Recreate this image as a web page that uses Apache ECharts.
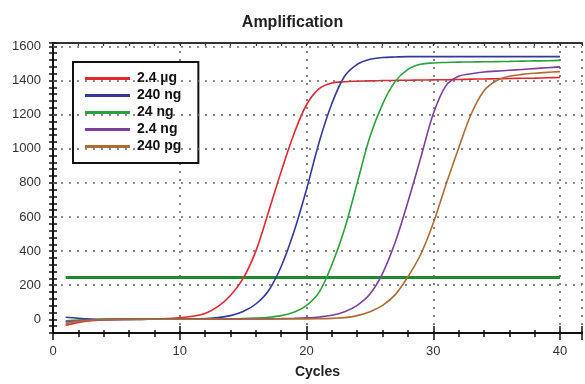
<!DOCTYPE html>
<html>
<head>
<meta charset="utf-8">
<script src="https://cdn.jsdelivr.net/npm/echarts@6/dist/echarts.min.js"></script>
<style>
html,body{margin:0;padding:0;background:#fff;}
#chart{width:585px;height:384px;}
</style>
</head>
<body>
<div id="chart"></div>
<script>
// ---- data ----
const cycles = [1,2,3,4,5,6,7,8,9,10,11,12,13,14,15,16,17,18,19,20,21,22,23,24,25,26,27,28,29,30,31,32,33,34,35,36,37,38,39,40];
const seriesNames = ['2.4 µg', '240 ng', '24 ng', '2.4 ng', '240 pg'];
const red = [-35,-18,-8,-3,0,1,2,3,5,9,18,35,75,140,240,400,630,866,1085,1258,1352,1385,1393,1396,1398,1400,1401,1402,1403,1404,1405,1406,1408,1409,1410,1412,1413,1414,1416,1418];
const blue = [12,6,2,0,0,0,0,1,1,2,3,5,10,22,46,90,168,310,512,762,1040,1265,1425,1495,1525,1535,1538,1540,1540,1540,1540,1540,1540,1540,1540,1540,1540,1540,1540,1540];
const green = [-8,-4,-2,0,0,1,1,1,2,2,2,3,3,3,4,7,12,22,42,82,160,320,530,800,1070,1262,1395,1465,1495,1503,1506,1508,1509,1510,1511,1512,1514,1515,1516,1518];
const purple = [-15,-8,-4,-1,0,0,1,1,1,1,2,2,2,2,3,3,3,4,6,9,14,24,45,82,148,270,453,690,945,1205,1370,1425,1440,1450,1455,1460,1465,1470,1475,1480];
const brown = [-25,-12,-5,-2,0,0,0,1,1,1,1,1,2,2,2,2,2,2,3,3,4,6,10,22,45,82,145,250,380,565,790,1005,1205,1340,1400,1425,1436,1443,1448,1452];
const thresholdValue = 245;
const thresholdRange = [1, 40];
const yGridValues = [200,400,600,800,1000,1200,1400,1600];
const xLabelStep = 10;
const yLabelStep = 200;

const colors = ['#e3262f', '#33389a', '#2aa13a', '#7b3f9e', '#b06a35'];
const allData = [red, blue, green, purple, brown];
const FONT = 'Liberation Sans, Arial, sans-serif';

const xMin = 0, xMax = 41.73, yMin = -80, yMax = 1620;

function xAxisDef(extra) {
  return Object.assign({
    type: 'value', min: xMin, max: xMax, position: 'bottom',
    axisLine: {show: false, onZero: false},
    axisLabel: {show: false},
    splitLine: {show: false},
    axisTick: {show: false}
  }, extra);
}
function yAxisDef(extra) {
  return Object.assign({
    type: 'value', min: yMin, max: yMax, interval: 40, position: 'left',
    axisLine: {show: false, onZero: false},
    axisLabel: {show: false},
    splitLine: {show: false},
    axisTick: {show: false}
  }, extra);
}

const series = seriesNames.map((n, i) => ({
  name: n,
  type: 'line',
  xAxisIndex: 0, yAxisIndex: 0,
  data: cycles.map((c, k) => [c, allData[i][k]]),
  smooth: 0.35,
  symbol: 'none',
  z: 3,
  lineStyle: {color: colors[i], width: 1.6},
  itemStyle: {color: colors[i]}
}));

series.unshift({
  name: 'Threshold',
  type: 'line',
  xAxisIndex: 0, yAxisIndex: 0,
  data: thresholdRange.map(c => [c, thresholdValue]),
  symbol: 'none',
  z: 2,
  lineStyle: {color: '#1e8a2e', width: 3},
  markLine: {
    silent: true, symbol: 'none', label: {show: false},
    lineStyle: {color: '#666', type: [2, 6], width: 1.6},
    data: yGridValues.map(v => ({yAxis: v}))
  }
});

const chart = echarts.init(document.getElementById('chart'), null, {renderer: 'canvas'});
chart.setOption({
  animation: false,
  backgroundColor: '#fff',
  title: {
    text: 'Amplification', left: 'center', top: 10,
    textStyle: {fontFamily: FONT, fontSize: 16, fontWeight: 'bold', color: '#222'}
  },
  grid: {left: 53, right: 0, top: 43, bottom: 48.5, containLabel: false},
  legend: {
    data: seriesNames, orient: 'vertical', left: 73, top: 62,
    padding: [8, 17, 8, 12], itemWidth: 45, itemHeight: 3, itemGap: 0, icon: 'rect',
    borderColor: '#111', borderWidth: 2, backgroundColor: '#fff',
    textStyle: {fontFamily: FONT, fontSize: 14, fontWeight: 'bold', color: '#111', lineHeight: 17, padding: [0, 0, 0, 2]}
  },
  xAxis: [
    xAxisDef({
      interval: 2,
      name: 'Cycles', nameLocation: 'middle', nameGap: 32,
      nameTextStyle: {fontFamily: FONT, fontSize: 14, fontWeight: 'bold', color: '#222'},
      axisLine: {show: true, onZero: false, lineStyle: {color: '#111', width: 2}},
      axisTick: {show: true, inside: false, length: 4, lineStyle: {color: '#111', width: 1.5}},
      axisLabel: {show: true, margin: 12, fontFamily: FONT, fontSize: 13, color: '#333',
        formatter: v => (Math.abs(v % xLabelStep) < 1e-6 ? String(v) : '')}
    }),
    xAxisDef({interval: 2, axisTick: {show: true, inside: true, length: 3, lineStyle: {color: '#111', width: 1.5}}}),
    xAxisDef({interval: 10, axisTick: {show: true, inside: false, length: 7, lineStyle: {color: '#111', width: 1.5}},
      splitLine: {show: true, lineStyle: {color: '#666', type: [2, 6], width: 1.6}}}),
    xAxisDef({interval: 10, axisTick: {show: true, inside: true, length: 7, lineStyle: {color: '#111', width: 1.5}}}),
    xAxisDef({interval: 2, position: 'top',
      axisLine: {show: true, onZero: false, lineStyle: {color: '#333', width: 2}},
      axisTick: {show: true, inside: true, length: 3, lineStyle: {color: '#333', width: 1.2}}})
  ],
  yAxis: [
    yAxisDef({
      axisLine: {show: true, onZero: false, lineStyle: {color: '#111', width: 2}},
      axisTick: {show: true, inside: false, length: 4, lineStyle: {color: '#111', width: 1.5}},
      axisLabel: {show: true, margin: 12, fontFamily: FONT, fontSize: 13, color: '#333',
        formatter: v => (v >= 0 && v <= 1600 && Math.abs(v % yLabelStep) < 1e-6 ? String(v) : '')}
    }),
    yAxisDef({axisTick: {show: true, inside: true, length: 4, lineStyle: {color: '#111', width: 1.5}}})
  ],
  series: series
});
</script>
</body>
</html>
